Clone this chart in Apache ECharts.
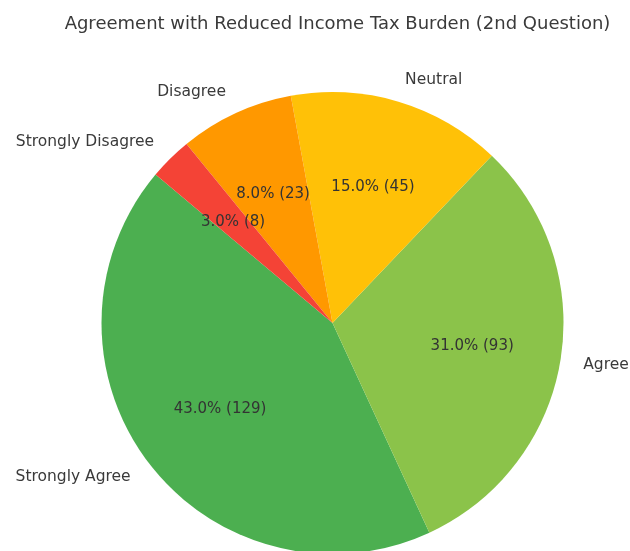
<!DOCTYPE html>
<html>
<head>
<meta charset="utf-8">
<script src="https://cdn.jsdelivr.net/npm/echarts@6/dist/echarts.min.js"></script>
<style>
  html, body { margin: 0; padding: 0; background: #fff; }
  #chart { width: 630px; height: 551px; }
</style>
</head>
<body>
<div id="chart"></div>
<script>
// Survey responses, listed in drawing order (counter-clockwise from 140°)
const categories = ['Strongly Agree', 'Agree', 'Neutral', 'Disagree', 'Strongly Disagree'];
const percents = [43.0, 31.0, 15.0, 8.0, 3.0];
const counts = [129, 93, 45, 23, 8];
const colors = ['#4CAF50', '#8BC34A', '#FFC107', '#FF9800', '#F44336'];
const titleText = 'Agreement with Reduced Income Tax Burden (2nd Question)';

const FONT = 'DejaVu Sans';
const cx = 332.5, cy = 323, R = 231;

const chart = echarts.init(document.getElementById('chart'), null, { renderer: 'canvas' });

const sliceData = categories.map((name, i) => ({
  name: name,
  value: percents[i],
  itemStyle: { color: colors[i] }
}));

const pctData = categories.map((name, i) => ({
  name: name,
  value: percents[i],
  pct: percents[i].toFixed(1) + '% (' + counts[i] + ')'
}));

chart.setOption({
  animation: false,
  backgroundColor: '#ffffff',
  title: {
    text: titleText,
    left: cx,
    textAlign: 'center',
    top: 10,
    textStyle: { fontFamily: FONT, fontSize: 18, fontWeight: 'normal', color: '#3a3a3a' }
  },
  series: [
    {
      // wedges with category names just outside the rim
      type: 'pie',
      center: [cx, cy],
      radius: [0, R],
      startAngle: 140,
      clockwise: false,
      avoidLabelOverlap: false,
      silent: true,
      data: sliceData,
      label: {
        show: true,
        position: 'outside',
        distanceToLabelLine: 0,
        fontFamily: FONT,
        fontSize: 15.5,
        color: '#3a3a3a',
        formatter: '{b}'
      },
      labelLine: { show: false, length: 0.1 * R, length2: 0 },
      itemStyle: { borderWidth: 0 }
    },
    {
      // transparent ring whose midline sits at 0.6 R for the percentage labels
      type: 'pie',
      center: [cx, cy],
      radius: [0.2 * R, R],
      startAngle: 140,
      clockwise: false,
      avoidLabelOverlap: false,
      silent: true,
      z: 3,
      data: pctData,
      itemStyle: { color: 'rgba(0,0,0,0)', borderWidth: 0 },
      label: {
        show: true,
        position: 'inside',
        fontFamily: FONT,
        fontSize: 15,
        color: '#333',
        formatter: p => p.data.pct
      },
      labelLine: { show: false }
    }
  ]
});
</script>
</body>
</html>
